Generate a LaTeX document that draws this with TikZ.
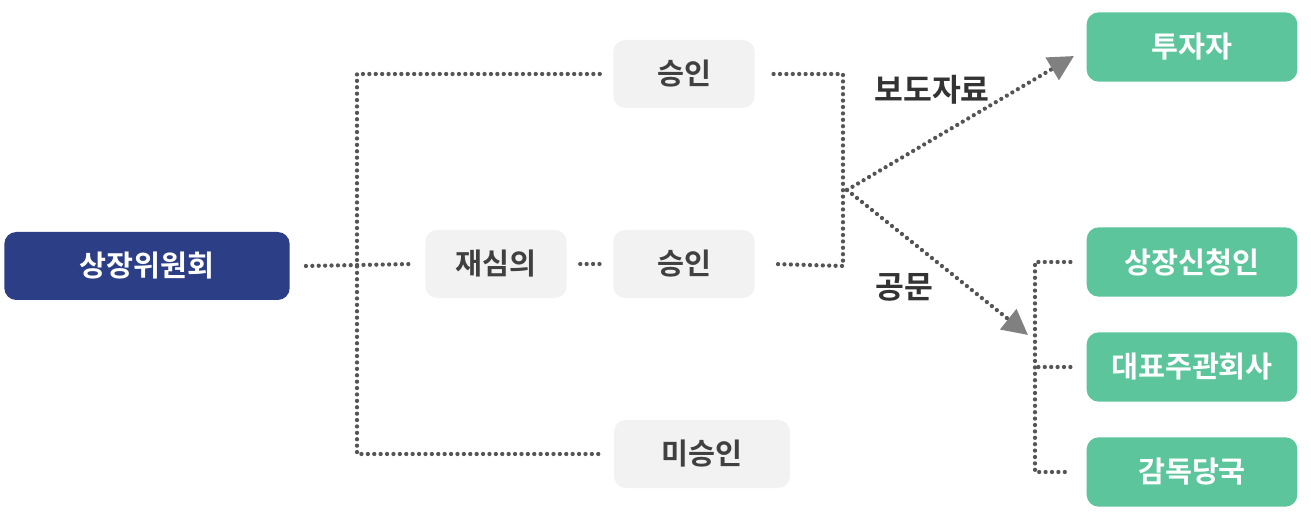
\documentclass[tikz,border=0pt]{standalone}
\usepackage{fontspec}
\newfontfamily\kr{Noto Sans CJK KR}[BoldFont={* Bold}]
\usetikzlibrary{arrows.meta}
\definecolor{navy}{HTML}{2B3E86}
\definecolor{mint}{HTML}{5CC59C}
\definecolor{pale}{HTML}{F2F2F2}
\definecolor{dots}{HTML}{555555}
\tikzset{
    base node/.style={rounded corners=9, minimum height=51, inner sep=0, font=\kr\bfseries\fontsize{22}{24}\selectfont},
    main node/.style={base node, fill=navy, text=white, minimum width=214},
    gray node/.style={base node, fill=pale, text=black!75, minimum width=106},
    green node/.style={base node, fill=mint, text=white, minimum width=158, minimum height=52},
    dot line/.style={draw=dots, line width=3.2, line cap=round, dash pattern=on 0pt off 4.8pt},
    tip/.style={-{Triangle[length=19, width=19, fill=gray, color=gray]}},
    word/.style={text=black!80, font=\kr\bfseries\fontsize{23.5}{26}\selectfont}
    }
\begin{document}
\begin{tikzpicture}[x=0.75pt, y=-0.75pt]
                \useasboundingbox[fill=white] (0,0) rectangle (1311,513);
                % left side
                \node(com)[main node] at (147,266){상장위원회};
                \node(re)[gray node, minimum width=106] at (496,264){재심의};
                \node(ok1)[gray node] at (684,74){승인};
                \node(ok2)[gray node] at (684,264){승인};
                \node(no)[gray node, minimum width=132] at (702,454){미승인};
                % right side
                \node(inv)[green node] at (1192,47){투자자};
                \node(app)[green node] at (1192,262){상장신청인};
                \node(lead)[green node] at (1192,367){대표주관회사};
                \node(reg)[green node] at (1192,472){감독당국};
                \coordinate(fork) at (357,264);
                \coordinate(up) at (843,74);
                \coordinate(down) at (843,266);
                \coordinate(j) at (847,190);
                \coordinate(br) at (1035,262);
                % connectors
                \draw[dot line] ([xshift=12]com.east) -- ([xshift=-10]re.west);
                \draw[dot line] ([xshift=10]re.east) -- ([xshift=-10]ok2.west);
                \draw[dot line] ([xshift=-10]ok1.west) -| (fork) |- ([xshift=-10]no.west);
                \draw[dot line] ([xshift=14]ok1.east) -- (up) -- (down) -- ([xshift=14]ok2.east);
                \draw[dot line, tip] (j) -- (1074,56);
                \draw[dot line, tip] (j) -- (1028,335);
                \draw[dot line] ([xshift=-12]app.west) -- (br) |- ([xshift=-12]reg.west);
                \draw[dot line] ([xshift=-12]lead.west) -- (br |- lead.west);
                % labels
                \node(press)[word] at (932,90){보도자료};
                \node(doc)[word] at (904,287){공문};
            \end{tikzpicture}
\end{document}
